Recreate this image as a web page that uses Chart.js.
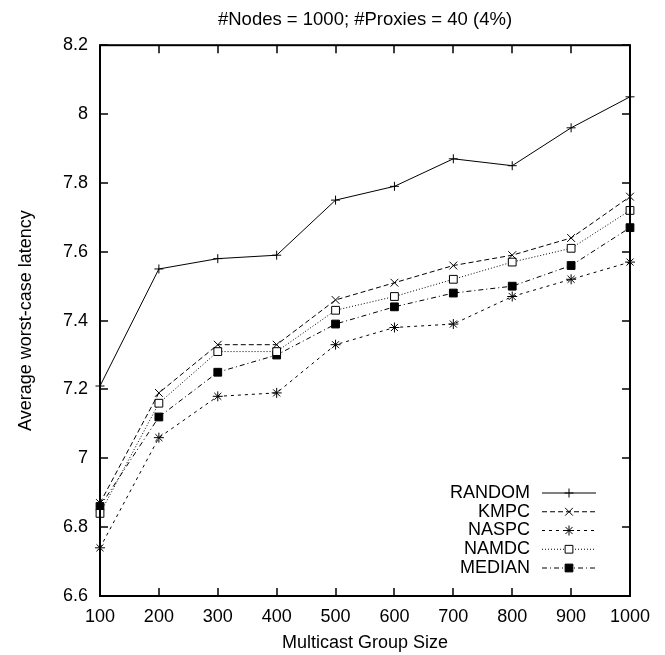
<!DOCTYPE html>
<html>
<head>
<meta charset="utf-8">
<script src="https://cdn.jsdelivr.net/npm/chart.js@4.4.0/dist/chart.umd.min.js"></script>
<style>
  html, body { margin: 0; padding: 0; background: #fff; }
</style>
</head>
<body>
<canvas id="latencyChart" width="665" height="655"></canvas>
<script>
// --- data ---
const groupSizes = [100, 200, 300, 400, 500, 600, 700, 800, 900, 1000];
const randomLat = [7.21, 7.55, 7.58, 7.59, 7.75, 7.79, 7.87, 7.85, 7.96, 8.05];
const kmpcLat   = [6.87, 7.19, 7.33, 7.33, 7.46, 7.51, 7.56, 7.59, 7.64, 7.76];
const naspcLat  = [6.74, 7.06, 7.18, 7.19, 7.33, 7.38, 7.39, 7.47, 7.52, 7.57];
const namdcLat  = [6.84, 7.16, 7.31, 7.31, 7.43, 7.47, 7.52, 7.57, 7.61, 7.72];
const medianLat = [6.86, 7.12, 7.25, 7.30, 7.39, 7.44, 7.48, 7.50, 7.56, 7.67];

const TITLE = '#Nodes = 1000; #Proxies = 40 (4%)';
const X_TITLE = 'Multicast Group Size';
const Y_TITLE = 'Average worst-case latency';
const FONT = '"Liberation Sans", Arial, Helvetica, sans-serif';
const FONT_SIZE = 18;

Chart.defaults.font.family = FONT;
Chart.defaults.color = '#000';

const toPoints = ys => ys.map((y, i) => ({ x: groupSizes[i], y: y }));

function series(label, ys, dash, style, radius, fill) {
    return {
        label: label,
        data: toPoints(ys),
        borderColor: '#000',
        borderWidth: 1,
        borderDash: dash,
        pointStyle: style,
        pointRadius: radius,
        pointBorderColor: '#000',
        pointBorderWidth: 1,
        pointBackgroundColor: fill,
        tension: 0,
        clip: false
    };
}

// gnuplot-like box with inward ticks on all four sides
const frameTicks = {
    id: 'frameTicks',
    afterDatasetsDraw(chart) {
        const { ctx, chartArea: a, scales } = chart;
        const len = 8;
        ctx.save();
        ctx.strokeStyle = '#000';
        ctx.lineWidth = 1.5;
        ctx.beginPath();
        scales.x.ticks.forEach(t => {
            const px = Math.round(scales.x.getPixelForValue(t.value));
            ctx.moveTo(px, a.bottom); ctx.lineTo(px, a.bottom - len);
            ctx.moveTo(px, a.top); ctx.lineTo(px, a.top + len);
        });
        scales.y.ticks.forEach(t => {
            const py = Math.round(scales.y.getPixelForValue(t.value));
            ctx.moveTo(a.left, py); ctx.lineTo(a.left + len, py);
            ctx.moveTo(a.right, py); ctx.lineTo(a.right - len, py);
        });
        ctx.stroke();
        ctx.lineWidth = 2;
        ctx.strokeRect(a.left, a.top, a.right - a.left, a.bottom - a.top);
        ctx.restore();
    }
};

// key inside the plot, bottom right: text, then line sample with marker
const insideKey = {
    id: 'insideKey',
    afterDraw(chart) {
        const { ctx, chartArea: a } = chart;
        const textRight = a.right - 100;
        const lineStart = a.right - 88;
        const lineEnd = a.right - 34;
        const rowTop = a.bottom - 103;
        chart.data.datasets.forEach((ds, i) => {
            const y = rowTop + i * 18.75;
            ctx.save();
            ctx.font = FONT_SIZE + 'px ' + FONT;
            ctx.fillStyle = '#000';
            ctx.textAlign = 'right';
            ctx.textBaseline = 'middle';
            ctx.fillText(ds.label, textRight, y);
            ctx.strokeStyle = ds.borderColor;
            ctx.lineWidth = 1;
            ctx.setLineDash(ds.borderDash || []);
            ctx.beginPath();
            ctx.moveTo(lineStart, y);
            ctx.lineTo(lineEnd, y);
            ctx.stroke();
            ctx.setLineDash([]);
            ctx.fillStyle = ds.pointBackgroundColor;
            ctx.strokeStyle = ds.pointBorderColor;
            Chart.helpers.drawPoint(ctx, {
                pointStyle: ds.pointStyle,
                radius: ds.pointRadius,
                borderWidth: 1,
                rotation: 0
            }, (lineStart + lineEnd) / 2, y);
            ctx.restore();
        });
    }
};

new Chart(document.getElementById('latencyChart'), {
    type: 'line',
    data: {
        datasets: [
            series('RANDOM', randomLat, [], 'cross', 4.5, '#000'),
            series('KMPC', kmpcLat, [5, 3], 'crossRot', 5.5, '#000'),
            series('NASPC', naspcLat, [3, 4], 'star', 5, '#000'),
            series('NAMDC', namdcLat, [1, 2], 'rect', 5.5, '#fff'),
            series('MEDIAN', medianLat, [5, 3, 1, 3], 'rect', 5.5, '#000')
        ]
    },
    options: {
        responsive: false,
        animation: false,
        layout: { padding: { left: 0, right: 35, top: 0, bottom: 0 } },
        plugins: {
            legend: { display: false },
            tooltip: { enabled: false },
            title: {
                display: true,
                fullSize: false,
                text: TITLE,
                color: '#000',
                font: { size: 18.5, weight: 'normal' },
                padding: { top: 9, bottom: 14 }
            }
        },
        scales: {
            x: {
                type: 'linear',
                min: 100,
                max: 1000,
                ticks: {
                    stepSize: 100,
                    padding: 10,
                    maxRotation: 0,
                    font: { size: FONT_SIZE },
                    color: '#000',
                    callback: v => String(v)
                },
                grid: { display: false, drawTicks: false, tickLength: 0 },
                border: { display: false },
                title: { display: true, text: X_TITLE, color: '#000', font: { size: FONT_SIZE }, padding: { top: 0, bottom: 1.5 } },
                afterFit(s) { s.height = 59; }
            },
            y: {
                min: 6.6,
                max: 8.2,
                ticks: {
                    stepSize: 0.2,
                    padding: 12,
                    font: { size: FONT_SIZE },
                    color: '#000',
                    callback: v => String(parseFloat(v.toFixed(1)))
                },
                grid: { display: false, drawTicks: false, tickLength: 0 },
                border: { display: false },
                title: { display: true, text: Y_TITLE, color: '#000', font: { size: FONT_SIZE }, padding: { top: 15, bottom: 0 } },
                afterFit(s) { s.width = 100; }
            }
        }
    },
    plugins: [frameTicks, insideKey]
});
</script>
</body>
</html>
